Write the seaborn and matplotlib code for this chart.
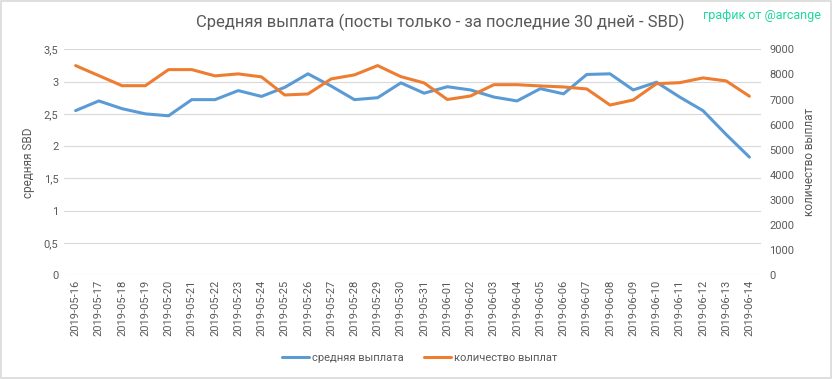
import seaborn as sns
import matplotlib.pyplot as plt
import matplotlib.ticker as mticker
import pandas as pd

dates = ["2019-05-16", "2019-05-17", "2019-05-18", "2019-05-19", "2019-05-20",
         "2019-05-21", "2019-05-22", "2019-05-23", "2019-05-24", "2019-05-25",
         "2019-05-26", "2019-05-27", "2019-05-28", "2019-05-29", "2019-05-30",
         "2019-05-31", "2019-06-01", "2019-06-02", "2019-06-03", "2019-06-04",
         "2019-06-05", "2019-06-06", "2019-06-07", "2019-06-08", "2019-06-09",
         "2019-06-10", "2019-06-11", "2019-06-12", "2019-06-13", "2019-06-14"]
avg_payout = [2.55, 2.70, 2.58, 2.50, 2.47, 2.72, 2.72, 2.86, 2.77, 2.91,
              3.12, 2.93, 2.72, 2.75, 2.98, 2.82, 2.92, 2.87, 2.76, 2.70,
              2.89, 2.81, 3.11, 3.12, 2.87, 2.99, 2.76, 2.55, 2.18, 1.83]
payout_count = [8350, 7950, 7550, 7550, 8190, 8190, 7940, 8020, 7900, 7180,
                7220, 7820, 7980, 8350, 7910, 7660, 7000, 7140, 7590, 7590,
                7540, 7500, 7420, 6780, 6980, 7630, 7670, 7860, 7740, 7130]

blue = "#5B9BD5"
orange = "#ED7D31"
grey = "#595959"

sns.set_theme(style="white")
plt.rcParams['font.family'] = ['Roboto', 'DejaVu Sans']

df = pd.DataFrame({"date": dates, "avg": avg_payout, "count": payout_count})
df["pos"] = range(len(df))

fig = plt.figure(figsize=(8.33, 3.79), dpi=100)
ax = fig.add_axes([0.0768, 0.2736, 0.8368, 0.5964])
ax2 = ax.twinx()

sns.lineplot(data=df, x="pos", y="avg", ax=ax, color=blue, linewidth=2.2,
             label="средняя выплата", legend=False)
sns.lineplot(data=df, x="pos", y="count", ax=ax2, color=orange, linewidth=2.2,
             label="количество выплат", legend=False)

ax.set_xlim(-0.5, len(dates) - 0.5)
ax.set_ylim(0, 3.5)
ax2.set_ylim(0, 9000)
ax.set_yticks([0, 0.5, 1, 1.5, 2, 2.5, 3, 3.5])
ax.yaxis.set_major_formatter(mticker.FuncFormatter(lambda v, p: f"{v:g}".replace(".", ",")))
ax2.set_yticks(range(0, 9001, 1000))
ax.set_xticks(df["pos"])
ax.set_xticklabels(dates, rotation=90)

ax.grid(axis="y", color="#D9D9D9", linewidth=0.8)
ax.set_axisbelow(True)
for a in (ax, ax2):
    for s in a.spines.values():
        s.set_visible(False)
    a.tick_params(length=0, labelsize=8, colors=grey, pad=4)
ax.tick_params(axis="x", pad=3)
ax2.tick_params(axis="y", pad=6)

ax.set_xlabel("")
ax.set_ylabel("средняя SBD", fontsize=8.5, color=grey, labelpad=6)
ax2.set_ylabel("количество выплат", fontsize=8.5, color=grey, labelpad=6)

fig.text(0.528, 0.942, "Средняя выплата (посты только - за последние 30 дней - SBD)",
         ha="center", va="center", fontsize=12, color=grey)
fig.text(0.986, 0.958, "график от @arcange", ha="right", va="center",
         fontsize=9, color="#20D8A0")

h1, l1 = ax.get_legend_handles_labels()
h2, l2 = ax2.get_legend_handles_labels()
fig.legend(h1 + h2, l1 + l2, loc="center", bbox_to_anchor=(0.504, 0.055),
           ncol=2, frameon=False, fontsize=8, handlelength=2.4,
           handletextpad=0.3, columnspacing=1.8, labelcolor=grey)

fig.patches.append(plt.Rectangle((0.001, 0.002), 0.997, 0.995, transform=fig.transFigure,
                                 fill=False, edgecolor="#D9D9D9", linewidth=1.2))

fig.savefig("out.png", dpi=100)
